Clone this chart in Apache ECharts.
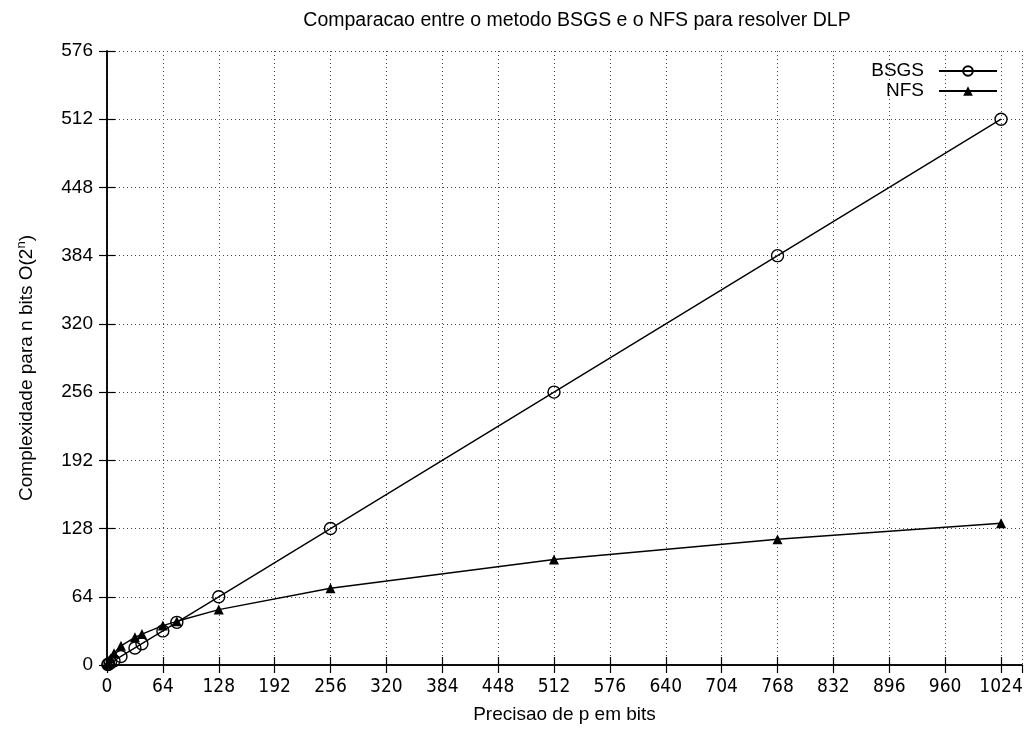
<!DOCTYPE html>
<html>
<head>
<meta charset="utf-8">
<script src="https://cdn.jsdelivr.net/npm/echarts@6/dist/echarts.min.js"></script>
<style>html,body{margin:0;padding:0;background:#fff}#c{width:1030px;height:729px}</style>
</head>
<body>
<div id="c"></div>
<script>
var bits = [1, 2, 4, 8, 16, 32, 40, 64, 80, 128, 256, 512, 768, 1024];
var bsgs = [0.5, 1, 2, 4, 8, 16, 20, 32, 40, 64, 128, 256, 384, 512];
var nfs  = [1, 3, 6, 11, 18, 26, 29, 37, 41, 52, 72, 99, 118, 133];
var xTicks = [0, 64, 128, 192, 256, 320, 384, 448, 512, 576, 640, 704, 768, 832, 896, 960, 1024];
var yTicks = [0, 64, 128, 192, 256, 320, 384, 448, 512, 576];

function pairs(xs, ys) { return xs.map(function (x, i) { return [x, ys[i]]; }); }

var font = "'Liberation Sans', Arial, Helvetica, sans-serif";
var narrow = "'Liberation Sans Narrow', 'DejaVu Sans Condensed', 'Liberation Sans', sans-serif";
var chart = echarts.init(document.getElementById('c'), null, {renderer: 'canvas'});
var gridLine = {show: true, lineStyle: {color: '#444', type: [1, 3], width: 1}};
var common = {
  type: 'value', min: 0,
  axisLine: {show: true, lineStyle: {color: '#000', width: 1.5}},
  axisTick: {show: true, inside: true, length: 8, lineStyle: {color: '#000', width: 1.2}}
};
var xShow = function (v) { return xTicks.indexOf(v) >= 0 ? String(v) : ''; };
var yShow = function (v) { return yTicks.indexOf(v) >= 0 ? String(v) : ''; };

chart.setOption({
  animation: false,
  backgroundColor: '#fff',
  title: {
    text: 'Comparacao entre o metodo BSGS e o NFS para resolver DLP',
    left: 572, top: 6, textAlign: 'center',
    textStyle: {fontFamily: font, fontSize: 19.5, fontWeight: 'normal', color: '#000'}
  },
  legend: {
    orient: 'vertical', right: 27, top: 56, align: 'right',
    itemWidth: 58, itemHeight: 12, itemGap: 0,
    textStyle: {fontFamily: font, fontSize: 19, lineHeight: 20, color: '#000', padding: [0, 10, 0, 0]},
    data: ['BSGS', 'NFS']
  },
  grid: {left: 107, right: 8, top: 51, bottom: 62, containLabel: false},
  xAxis: [
    Object.assign({}, common, {
      max: 1048, interval: 64, position: 'bottom',
      name: 'Precisao de p em bits', nameLocation: 'middle', nameGap: 40,
      nameTextStyle: {fontFamily: font, fontSize: 19, color: '#000'},
      axisLabel: {fontFamily: narrow, fontSize: 19, color: '#000', margin: 13, formatter: xShow, showMaxLabel: false},
      splitLine: gridLine
    }),
    Object.assign({}, common, {
      max: 1048, interval: 64, position: 'top',
      axisLabel: {show: false}, splitLine: {show: false}
    })
  ],
  yAxis: [
    Object.assign({}, common, {
      max: 576, interval: 64, position: 'left',
      name: '{a|Complexidade para n bits O(2}{s|n}{a|)}', nameLocation: 'middle', nameGap: 69,
      nameTextStyle: {
        fontFamily: font, fontSize: 19, color: '#000', padding: [0, 20, 0, 0],
        rich: {
          a: {fontFamily: font, fontSize: 19, color: '#000'},
          s: {fontFamily: font, fontSize: 13, color: '#000', padding: [0, 0, 10, 0]}
        }
      },
      axisLabel: {fontFamily: font, fontSize: 19, color: '#000', margin: 14, formatter: yShow},
      splitLine: gridLine
    }),
    Object.assign({}, common, {
      max: 576, interval: 64, position: 'right',
      axisLabel: {show: false}, splitLine: {show: false}
    })
  ],
  series: [
    {
      name: 'BSGS', type: 'line', data: pairs(bits, bsgs),
      symbol: 'circle', symbolSize: 12, showAllSymbol: true,
      lineStyle: {color: '#000', width: 1.4},
      itemStyle: {color: 'rgba(255,255,255,0)', borderColor: '#000', borderWidth: 1.4}
    },
    {
      name: 'NFS', type: 'line', data: pairs(bits, nfs),
      symbol: 'triangle', symbolSize: 10, showAllSymbol: true,
      lineStyle: {color: '#000', width: 1.4},
      itemStyle: {color: '#000', borderColor: '#000', borderWidth: 0}
    }
  ]
});
</script>
</body>
</html>
